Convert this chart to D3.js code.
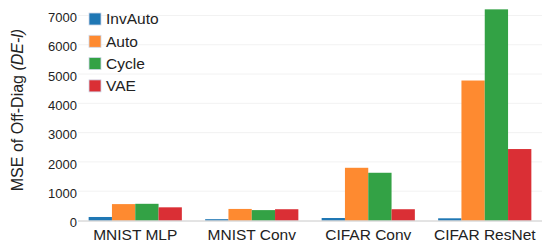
<!DOCTYPE html>
<html>
<head>
<meta charset="utf-8">
<script src="https://d3js.org/d3.v7.min.js"></script>
<style>
    body { margin: 0; background: #fff; }
    text { font-family: "Liberation Sans", Arial, sans-serif; fill: #222; }
</style>
</head>
<body>
<svg id="chart" width="550" height="252"></svg>
<script>
    // data
    let groups = ['MNIST MLP', 'MNIST Conv', 'CIFAR Conv', 'CIFAR ResNet']
    let methods = ['InvAuto', 'Auto', 'Cycle', 'VAE']
    let invAuto = [120, 45, 85, 75]
    let auto = [560, 395, 1800, 4780]
    let cycle = [570, 355, 1630, 7210]
    let vae = [450, 385, 385, 2440]
    let yTicks = [0, 1000, 2000, 3000, 4000, 5000, 6000, 7000]
    let colors = ['#1f77b4', '#fe8a30', '#33a245', '#da2f35']

    let series = [invAuto, auto, cycle, vae]

    let svg = d3.select('#chart')

    let x = d3.scaleBand()
        .domain(groups)
        .range([77, 543])
        .paddingInner(0.2)
        .paddingOuter(0.1)

    let xInner = d3.scaleBand()
        .domain(methods)
        .range([0, x.bandwidth()])

    let y = d3.scaleLinear()
        .domain([0, 7000])
        .range([220.5, 15.5])

    // faint gridlines
    svg.append('g')
        .selectAll('line')
        .data(yTicks.slice(1))
        .join('line')
        .attr('x1', 78)
        .attr('x2', 542)
        .attr('y1', d => y(d))
        .attr('y2', d => y(d))
        .attr('stroke', '#f2f2f2')
        .attr('stroke-width', 1)

    // y axis tick labels
    let yAxis = d3.axisLeft(y).tickValues(yTicks).tickFormat(d3.format('d')).tickSize(0).tickPadding(0)
    let gy = svg.append('g')
        .attr('transform', 'translate(77,2)')
        .call(yAxis)
    gy.select('.domain').remove()
    gy.selectAll('text')
        .style('font-size', '13px')
        .style('font-family', '"Liberation Sans", Arial, sans-serif')
        .attr('fill', '#222')

    // bars
    let gBars = svg.append('g')
    groups.forEach(function (g, gi) {
        methods.forEach(function (m, mi) {
            let v = series[mi][gi]
            gBars.append('rect')
                .attr('x', x(g) + xInner(m))
                .attr('y', y(v))
                .attr('width', xInner.bandwidth())
                .attr('height', y(0) - y(v))
                .attr('fill', colors[mi])
        })
    })

    // baseline
    svg.append('line')
        .attr('x1', 78)
        .attr('x2', 542)
        .attr('y1', 221)
        .attr('y2', 221)
        .attr('stroke', '#c8c8c8')
        .attr('stroke-width', 1)

    // x axis labels
    let xAxis = d3.axisBottom(x).tickSize(0).tickPadding(0)
    let gx = svg.append('g')
        .attr('transform', 'translate(0,229)')
        .call(xAxis)
    gx.select('.domain').remove()
    gx.selectAll('text')
        .style('font-size', '15.5px')
        .style('font-family', '"Liberation Sans", Arial, sans-serif')
        .attr('fill', '#222')

    // y axis title
    let title = svg.append('text')
        .attr('transform', 'translate(23,110) rotate(-90)')
        .attr('text-anchor', 'middle')
        .style('font-size', '16px')
    title.append('tspan').text('MSE of Off-Diag ')
    title.append('tspan').style('font-style', 'italic').text('(DE-l)')

    // legend
    let legend = svg.append('g')
    methods.forEach(function (m, i) {
        let ly = 19 + i * 22.3
        legend.append('rect')
            .attr('x', 89)
            .attr('y', ly - 6)
            .attr('width', 12)
            .attr('height', 12)
            .attr('fill', colors[i])
            .attr('stroke', '#cfd8e8')
            .attr('stroke-width', 0.8)
        legend.append('text')
            .attr('x', 106)
            .attr('y', ly)
            .attr('dy', '0.35em')
            .style('font-size', '15.5px')
            .text(m)
    })
</script>
</body>
</html>
